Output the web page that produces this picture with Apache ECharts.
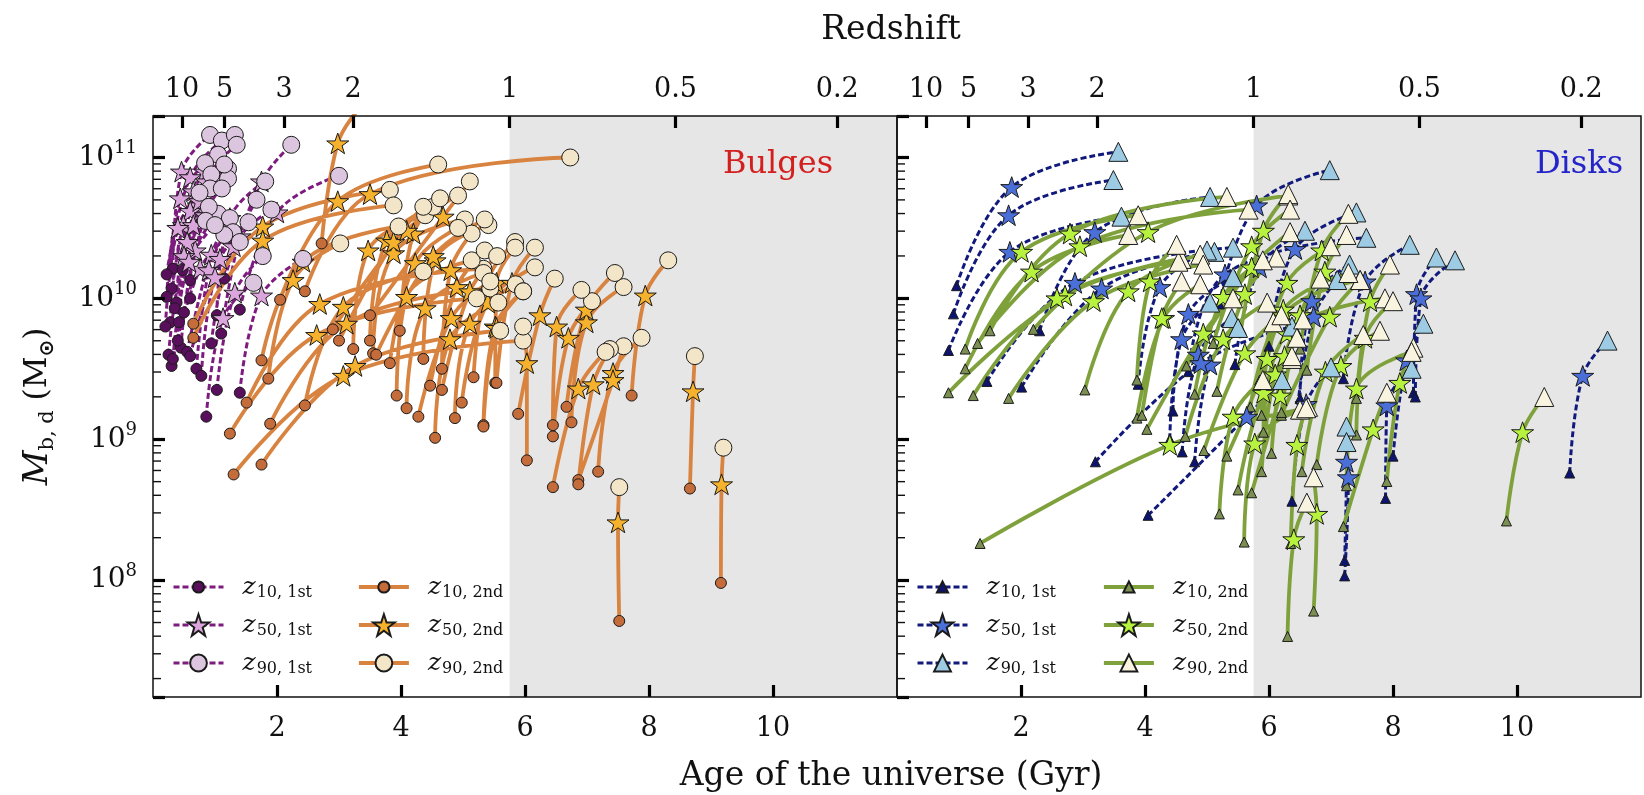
<!DOCTYPE html>
<html>
<head>
<meta charset="utf-8">
<title>Bulge and disk mass assembly</title>
<script src="https://cdn.jsdelivr.net/npm/echarts@6/dist/echarts.min.js"></script>
<style>
  html, body { margin: 0; padding: 0; background: #ffffff; }
  #chart { width: 1644px; height: 795px; }
</style>
</head>
<body>
<div id="chart"></div>
<script>
// ---------------------------------------------------------------------------
// Axis values
// ---------------------------------------------------------------------------
const redshiftTicks = [10, 5, 3, 2, 1, 0.5, 0.2];   // top axis labels
const ageTicks = [2, 4, 6, 8, 10];                   // bottom axis labels (Gyr)
const ageRange = [0, 12];                            // Gyr
const massRange = [1.48e7, 1.97e11];                 // solar masses (log axis)

// ---------------------------------------------------------------------------
// Formation tracks. One row per galaxy component:
// [t10, log M10, t50, log M50, t90, log M90]  (t in Gyr, M in solar masses)
// ---------------------------------------------------------------------------
const bulge1st = [
  [0.32, 10.21, 0.46, 10.90, 0.92, 11.16],
  [0.22, 10.17, 0.60, 10.86, 1.11, 11.12],
  [0.48, 10.20, 0.84, 10.90, 1.32, 11.16],
  [0.60, 10.13, 0.86, 10.83, 1.35, 11.09],
  [0.30, 10.07, 0.65, 10.76, 1.05, 11.02],
  [0.22, 10.01, 0.44, 10.71, 0.84, 10.96],
  [0.38, 9.97, 0.73, 10.66, 1.21, 10.92],
  [0.35, 9.93, 0.60, 10.62, 0.94, 10.88],
  [0.50, 9.90, 0.84, 10.59, 1.21, 10.85],
  [0.28, 9.83, 0.49, 10.52, 0.92, 10.78],
  [0.42, 9.83, 0.65, 10.52, 1.11, 10.78],
  [1.03, 9.88, 1.24, 10.57, 1.81, 10.83],
  [1.10, 9.75, 1.40, 10.44, 1.67, 10.70],
  [0.94, 9.68, 1.30, 10.37, 1.91, 10.63],
  [0.45, 9.65, 0.68, 10.34, 1.05, 10.60],
  [0.55, 9.62, 0.94, 10.31, 1.24, 10.57],
  [0.60, 9.59, 1.08, 10.28, 1.54, 10.54],
  [0.30, 9.52, 0.76, 10.21, 1.29, 10.47],
  [1.03, 9.35, 1.32, 10.04, 1.77, 10.30],
  [1.40, 9.33, 1.75, 10.02, 2.42, 10.28],
  [0.86, 9.16, 1.13, 9.86, 1.62, 10.11],
  [1.15, 10.14, 1.75, 10.83, 2.23, 11.09],
  [1.40, 9.92, 2.00, 10.61, 3.00, 10.87],
  [0.20, 9.80, 0.40, 10.50, 0.75, 10.75],
  [0.40, 9.70, 0.55, 10.40, 0.90, 10.65],
  [0.25, 9.60, 0.50, 10.30, 0.85, 10.55],
  [0.70, 9.50, 0.90, 10.20, 1.15, 10.45],
  [0.60, 10.00, 0.75, 10.69, 1.15, 10.95],
  [0.78, 9.45, 1.00, 10.15, 1.40, 10.40],
  [0.32, 9.57, 0.58, 10.26, 1.00, 10.52]
];

const bulge2nd = [
  [2.72, 10.39, 2.98, 11.10, 3.35, 11.36],
  [2.05, 9.99, 2.98, 10.69, 4.60, 10.95],
  [1.86, 9.43, 2.26, 10.13, 3.02, 10.39],
  [0.65, 9.82, 1.77, 10.51, 3.82, 10.77],
  [0.65, 9.72, 1.77, 10.41, 3.88, 10.66],
  [2.45, 10.05, 3.50, 10.74, 6.73, 11.00],
  [3.50, 9.88, 4.68, 10.58, 5.11, 10.83],
  [1.51, 9.26, 2.69, 9.96, 5.33, 10.21],
  [1.24, 9.04, 2.64, 9.74, 5.22, 10.00],
  [1.89, 9.11, 3.12, 9.82, 5.44, 10.07],
  [1.75, 9.56, 2.42, 10.26, 3.96, 10.51],
  [2.45, 9.24, 3.07, 9.94, 4.36, 10.19],
  [3.23, 9.64, 3.47, 10.34, 4.39, 10.59],
  [3.50, 9.70, 3.77, 10.41, 4.52, 10.65],
  [3.55, 9.61, 3.88, 10.32, 5.03, 10.56],
  [3.93, 9.31, 4.09, 10.01, 5.14, 10.27],
  [4.09, 9.22, 4.39, 9.93, 5.33, 10.18],
  [4.28, 9.16, 4.81, 9.86, 5.44, 10.12],
  [4.36, 9.57, 4.55, 10.27, 5.41, 10.52],
  [3.98, 9.77, 4.20, 10.46, 4.63, 10.71],
  [4.47, 9.38, 4.90, 10.08, 5.35, 10.34],
  [4.66, 9.50, 4.80, 10.20, 5.14, 10.46],
  [4.66, 9.35, 5.11, 10.05, 5.55, 10.30],
  [4.87, 9.15, 5.11, 9.82, 5.85, 10.10],
  [4.98, 9.26, 5.40, 9.97, 6.16, 10.22],
  [5.17, 9.44, 5.40, 10.13, 5.84, 10.40],
  [5.33, 9.10, 5.52, 9.80, 5.97, 10.05],
  [4.55, 9.01, 4.79, 9.71, 5.57, 9.97],
  [3.82, 9.54, 4.23, 10.25, 4.92, 10.50],
  [5.52, 9.40, 5.54, 10.11, 5.84, 10.36],
  [1.30, 8.75, 3.07, 9.45, 5.97, 9.70],
  [1.75, 8.82, 3.26, 9.52, 5.60, 9.77],
  [3.00, 9.70, 3.88, 10.40, 4.36, 10.65],
  [2.90, 9.78, 4.09, 10.48, 4.92, 10.73],
  [3.60, 9.60, 4.52, 10.30, 5.35, 10.56],
  [9.16, 7.98, 9.17, 8.68, 9.20, 8.94],
  [7.52, 7.71, 7.50, 8.41, 7.52, 8.66],
  [8.66, 8.65, 8.71, 9.34, 8.74, 9.59],
  [7.72, 9.31, 7.94, 10.02, 8.31, 10.27],
  [7.18, 8.77, 7.42, 9.47, 7.88, 9.72],
  [6.86, 8.71, 7.42, 9.42, 7.59, 9.66],
  [6.86, 8.68, 7.10, 9.39, 7.37, 9.64],
  [6.75, 9.12, 6.99, 9.83, 7.59, 10.08],
  [6.67, 9.23, 6.99, 9.92, 7.45, 10.18],
  [6.45, 9.02, 6.70, 9.72, 7.08, 9.98],
  [6.45, 8.66, 6.86, 9.36, 7.30, 9.62],
  [6.03, 8.85, 6.03, 9.54, 5.97, 9.80],
  [5.89, 9.18, 6.24, 9.88, 6.48, 10.14],
  [5.54, 9.40, 5.79, 10.11, 6.16, 10.36],
  [5.33, 9.09, 5.54, 9.79, 5.97, 10.05],
  [6.45, 9.10, 6.51, 9.80, 6.91, 10.06]
];

const disk1st = [
  [0.96, 10.09, 1.85, 10.79, 3.57, 11.04],
  [0.91, 9.89, 1.80, 10.59, 3.49, 10.84],
  [0.83, 9.63, 1.82, 10.33, 3.62, 10.58],
  [2.30, 9.77, 3.19, 10.47, 5.05, 10.72],
  [1.45, 9.41, 2.87, 10.11, 5.42, 10.36],
  [2.01, 9.37, 3.30, 10.07, 5.12, 10.33],
  [5.20, 9.96, 5.80, 10.66, 6.98, 10.91],
  [6.00, 9.66, 6.42, 10.35, 7.41, 10.61],
  [5.45, 9.53, 5.85, 10.22, 6.58, 10.48],
  [4.70, 9.48, 5.29, 10.17, 7.57, 10.43],
  [3.89, 9.39, 4.24, 10.08, 5.00, 10.34],
  [4.45, 9.20, 4.70, 9.89, 5.42, 10.15],
  [4.40, 9.00, 4.59, 9.71, 5.05, 9.97],
  [4.60, 8.91, 4.86, 9.60, 5.40, 9.86],
  [4.80, 8.84, 5.05, 9.53, 5.50, 9.79],
  [6.50, 9.29, 6.69, 9.98, 7.30, 10.24],
  [6.45, 9.18, 6.72, 9.87, 7.10, 10.13],
  [7.20, 9.43, 7.55, 10.12, 8.27, 10.38],
  [8.33, 9.33, 8.38, 10.03, 8.70, 10.29],
  [8.36, 9.30, 8.45, 10.00, 9.00, 10.27],
  [8.00, 8.88, 8.22, 9.56, 8.49, 9.82],
  [7.88, 8.58, 7.90, 9.24, 8.30, 9.50],
  [7.22, 8.14, 7.25, 8.84, 7.25, 9.09],
  [7.22, 8.03, 7.28, 8.73, 7.25, 8.98],
  [4.05, 8.46, 5.64, 9.16, 6.21, 9.42],
  [10.85, 8.76, 11.06, 9.45, 11.46, 9.70],
  [3.20, 8.84, 4.90, 9.54, 6.37, 9.80],
  [6.37, 8.56, 6.60, 9.25, 7.00, 9.51]
];

const disk2nd = [
  [1.50, 9.77, 2.79, 10.46, 5.32, 10.72],
  [1.10, 9.64, 2.01, 10.33, 3.89, 10.59],
  [1.10, 9.50, 2.17, 10.19, 3.73, 10.45],
  [0.83, 9.33, 2.71, 10.02, 4.59, 10.28],
  [1.23, 9.31, 2.58, 10.00, 4.54, 10.26],
  [2.20, 9.78, 4.05, 10.47, 6.31, 10.73],
  [3.03, 9.35, 3.73, 10.05, 4.89, 10.31],
  [3.87, 9.42, 4.08, 10.12, 4.51, 10.38],
  [3.87, 9.15, 4.30, 9.86, 4.89, 10.10],
  [4.03, 9.07, 4.94, 9.75, 5.42, 10.00],
  [1.34, 8.26, 4.40, 8.96, 6.50, 9.21],
  [4.65, 9.02, 5.26, 9.71, 5.97, 9.97],
  [5.16, 9.34, 5.61, 10.03, 6.12, 10.29],
  [4.67, 9.52, 5.72, 10.22, 6.34, 10.47],
  [5.55, 9.78, 5.91, 10.48, 6.31, 10.74],
  [5.88, 9.17, 6.23, 9.88, 7.47, 10.13],
  [5.91, 9.05, 6.29, 9.75, 7.87, 10.00],
  [5.72, 8.62, 6.18, 9.31, 6.37, 9.57],
  [5.32, 8.88, 5.97, 9.57, 6.07, 9.83],
  [6.30, 7.60, 6.40, 8.29, 6.61, 8.55],
  [6.72, 7.78, 6.77, 8.47, 6.72, 8.73],
  [6.53, 8.77, 6.91, 9.48, 7.52, 9.74],
  [6.77, 8.82, 7.16, 9.52, 7.79, 9.77],
  [6.20, 9.17, 6.98, 9.87, 7.47, 10.13],
  [6.61, 9.49, 6.90, 10.19, 7.25, 10.45],
  [7.41, 9.29, 7.63, 9.98, 7.95, 10.24],
  [7.90, 8.70, 8.11, 9.40, 8.33, 9.65],
  [7.20, 8.38, 7.68, 9.07, 7.90, 9.33],
  [7.25, 8.67, 7.41, 9.36, 8.30, 9.62],
  [4.95, 8.92, 5.61, 9.61, 6.20, 9.88],
  [5.20, 8.47, 5.42, 9.16, 5.90, 9.42],
  [5.60, 8.27, 5.77, 8.97, 6.63, 9.23],
  [6.35, 8.26, 6.45, 8.96, 6.60, 9.22],
  [6.50, 9.64, 6.85, 10.34, 7.28, 10.60],
  [5.85, 9.42, 6.29, 10.11, 7.00, 10.37],
  [4.80, 9.32, 5.26, 10.01, 5.90, 10.27],
  [5.10, 9.68, 5.72, 10.37, 6.34, 10.63],
  [1.80, 9.29, 3.17, 9.98, 4.94, 10.24],
  [3.95, 9.17, 4.27, 9.86, 4.59, 10.12],
  [9.83, 8.42, 10.09, 9.05, 10.44, 9.30],
  [5.50, 8.64, 5.91, 9.33, 6.37, 9.59],
  [6.20, 9.19, 6.50, 9.88, 6.83, 10.14],
  [5.70, 9.23, 6.23, 9.92, 7.28, 10.18],
  [1.30, 9.68, 2.95, 10.37, 5.67, 10.63],
  [7.41, 9.03, 7.55, 9.72, 8.00, 9.98],
  [6.04, 8.90, 6.25, 9.59, 6.55, 9.85],
  [5.88, 8.77, 6.10, 9.46, 6.45, 9.72]
];

// ---------------------------------------------------------------------------
// Cosmology: age of a flat LCDM universe (H0 = 70 km/s/Mpc, Om = 0.3)
// ---------------------------------------------------------------------------
function ageAtRedshift(z) {
  const H0 = 70, Om = 0.3, OL = 0.7;
  const hubbleTime = 977.79 / H0; // Gyr
  return (2 / (3 * Math.sqrt(OL))) * hubbleTime *
    Math.asinh(Math.sqrt(OL / Om) * Math.pow(1 + z, -1.5));
}
const redshiftAges = redshiftTicks.map(ageAtRedshift);
const shadeStart = ageAtRedshift(1);

// ---------------------------------------------------------------------------
// Styling
// ---------------------------------------------------------------------------
const SERIF = "'DejaVu Serif', serif";
const STAR = 'path://M50,2 L61.8,36.2 L97.6,36.2 L68.6,57.4 L79.4,91.6 L50,70.6 L20.6,91.6 L31.4,57.4 L2.4,36.2 L38.2,36.2 Z';
const pct = ['10', '50', '90'];

const groups = [
  { id: 'b1', grid: 0, tracks: bulge1st, tag: '1st',
    line: { color: '#7d1c7e', width: 3, type: [6, 3] },
    marks: [
      { symbol: 'circle', size: 11, fill: '#5a0f5c' },
      { symbol: STAR, size: 22, fill: '#dba6dc' },
      { symbol: 'circle', size: 17, fill: '#dcc6df' }
    ] },
  { id: 'b2', grid: 0, tracks: bulge2nd, tag: '2nd',
    line: { color: '#d8833f', width: 3.8, type: 'solid' },
    marks: [
      { symbol: 'circle', size: 11, fill: '#c46c3a' },
      { symbol: STAR, size: 22, fill: '#f6b22c' },
      { symbol: 'circle', size: 17, fill: '#f3e5c8' }
    ] },
  { id: 'd1', grid: 1, tracks: disk1st, tag: '1st',
    line: { color: '#111a7c', width: 3, type: [6, 3] },
    marks: [
      { symbol: 'triangle', size: 10, fill: '#0c1470' },
      { symbol: STAR, size: 22, fill: '#4b6fd8' },
      { symbol: 'triangle', size: 19, fill: '#9ccbe3' }
    ] },
  { id: 'd2', grid: 1, tracks: disk2nd, tag: '2nd',
    line: { color: '#7fa13c', width: 3.8, type: 'solid' },
    marks: [
      { symbol: 'triangle', size: 10, fill: '#7b8f52' },
      { symbol: STAR, size: 22, fill: '#b6f23e' },
      { symbol: 'triangle', size: 19, fill: '#f8f4e0' }
    ] }
];

// ---------------------------------------------------------------------------
// Data helpers
// ---------------------------------------------------------------------------
function trackPoints(tracks) {
  const out = [];
  tracks.forEach(t => {
    out.push([t[0], Math.pow(10, t[1])], [t[2], Math.pow(10, t[3])], [t[4], Math.pow(10, t[5])], null);
  });
  return out;
}
function markerPoints(tracks, k) {
  const out = [];
  tracks.forEach(t => { out.push([t[2 * k], Math.pow(10, t[2 * k + 1])], null); });
  return out;
}

// Log minor ticks (2..9 x 10^n) inside the mass range
const minorTickValues = [];
for (let e = 7; e <= 11; e++) {
  for (let k = 2; k <= 9; k++) {
    const v = k * Math.pow(10, e);
    if (v > massRange[0] && v < massRange[1]) minorTickValues.push([ageRange[0], v]);
  }
}

// ---------------------------------------------------------------------------
// Series
// ---------------------------------------------------------------------------
const series = [];
[0, 1].forEach(g => {
  // grey band for z < 1
  series.push({
    type: 'custom', xAxisIndex: g * 2, yAxisIndex: g, silent: true, z: 1,
    data: [[shadeStart, massRange[0], ageRange[1], massRange[1]]],
    encode: { x: [0, 2], y: [1, 3] },
    renderItem: (params, api) => {
      const p0 = api.coord([api.value(0), api.value(3)]);
      const p1 = api.coord([api.value(2), api.value(1)]);
      return { type: 'rect', shape: { x: p0[0], y: p0[1], width: p1[0] - p0[0], height: p1[1] - p0[1] },
               style: { fill: '#e6e6e6' } };
    }
  });
  // minor ticks on the mass axis
  series.push({
    type: 'custom', xAxisIndex: g * 2, yAxisIndex: g, silent: true, z: 20,
    data: minorTickValues,
    encode: { x: 0, y: 1 },
    renderItem: (params, api) => {
      const p = api.coord([api.value(0), api.value(1)]);
      return { type: 'line', shape: { x1: p[0], y1: p[1], x2: p[0] + 8, y2: p[1] },
               style: { stroke: '#111', lineWidth: 1.4 } };
    }
  });
});

// growth tracks
groups.forEach(gr => {
  series.push({
    type: 'line', name: gr.id + '_track', xAxisIndex: gr.grid * 2, yAxisIndex: gr.grid,
    data: trackPoints(gr.tracks), showSymbol: false, smooth: 0.4, connectNulls: false,
    lineStyle: Object.assign({}, gr.line), silent: true, z: 2
  });
});

// z10 / z50 / z90 markers
[0, 1, 2].forEach(k => {
  groups.forEach(gr => {
    const m = gr.marks[k];
    series.push({
      type: 'line', name: gr.id + '_' + pct[k], xAxisIndex: gr.grid * 2, yAxisIndex: gr.grid,
      data: markerPoints(gr.tracks, k), connectNulls: false,
      symbol: m.symbol, symbolSize: m.size, symbolKeepAspect: true, showSymbol: true,
      itemStyle: { color: m.fill, borderColor: '#1b1b1b', borderWidth: 1 },
      lineStyle: Object.assign({}, gr.line),
      silent: true, z: 3
    });
  });
});

// ---------------------------------------------------------------------------
// Axes
// ---------------------------------------------------------------------------
const tickStyle = { color: '#000', width: 3.2 };

function ageAxis(g) {
  return {
    type: 'value', gridIndex: g, position: 'bottom', min: ageRange[0], max: ageRange[1],
    axisLine: { show: false }, splitLine: { show: false },
    axisTick: { show: true, inside: true, length: 12, lineStyle: tickStyle, customValues: ageTicks },
    axisLabel: { customValues: ageTicks, margin: 18, fontSize: 27, fontFamily: SERIF, color: '#111',
                 formatter: v => String(v) },
    z: 10
  };
}
function redshiftAxis(g) {
  return {
    type: 'value', gridIndex: g, position: 'top', min: ageRange[0], max: ageRange[1],
    axisLine: { show: false }, splitLine: { show: false },
    axisTick: { show: true, inside: true, length: 12, lineStyle: tickStyle, customValues: redshiftAges },
    axisLabel: {
      customValues: redshiftAges, margin: 13, fontSize: 27, fontFamily: SERIF, color: '#111',
      formatter: v => {
        const i = redshiftAges.findIndex(a => Math.abs(a - v) < 1e-6);
        return i >= 0 ? String(redshiftTicks[i]) : '';
      }
    },
    z: 10
  };
}
function massAxis(g) {
  const ax = {
    type: 'log', logBase: 10, gridIndex: g, min: massRange[0], max: massRange[1],
    axisLine: { show: false }, splitLine: { show: false },
    axisTick: { show: true, inside: true, length: 12, lineStyle: tickStyle },
    axisLabel: {
      show: g === 0, margin: 16,
      formatter: v => {
        const e = Math.log10(v);
        if (Math.abs(e - Math.round(e)) > 1e-6) return '';
        return '{b|10}{e|' + Math.round(e) + '}';
      },
      rich: {
        b: { fontFamily: SERIF, fontSize: 28, lineHeight: 36, verticalAlign: 'middle', color: '#111' },
        e: { fontFamily: SERIF, fontSize: 18, lineHeight: 18, verticalAlign: 'top', color: '#111' }
      }
    },
    z: 10
  };
  if (g === 0) {
    ax.name = '{m|M}{s|b, d}{p| (M}{o|\u2299}{p|)}';
    ax.nameLocation = 'middle';
    ax.nameRotate = 90;
    ax.nameGap = 95;
    ax.nameTextStyle = {
      rich: {
        m: { fontFamily: SERIF, fontStyle: 'italic', fontSize: 34, lineHeight: 40, verticalAlign: 'middle', color: '#111' },
        s: { fontFamily: SERIF, fontSize: 21, lineHeight: 22, verticalAlign: 'bottom', color: '#111' },
        p: { fontFamily: SERIF, fontSize: 31, lineHeight: 40, verticalAlign: 'middle', color: '#111' },
        o: { fontFamily: "'DejaVu Sans', sans-serif", fontSize: 20, fontWeight: 'bold', lineHeight: 22, verticalAlign: 'bottom', color: '#111' }
      }
    };
  }
  return ax;
}

// ---------------------------------------------------------------------------
// Legends: one entry each, so every marker keeps its own size
// ---------------------------------------------------------------------------
const legendRowCentres = [588, 626, 664];
const legendIconHeights = [14, 27, 21];   // marker is drawn at 80% of this
function legendEntry(gr, k, left) {
  return {
    data: [gr.id + '_' + pct[k]], orient: 'vertical', left: left,
    top: legendRowCentres[k] - 13.5,
    padding: 0, itemWidth: 50, itemHeight: legendIconHeights[k], selectedMode: false,
    lineStyle: { width: gr.line.width },
    formatter: name => '{z|z}{s|' + name.split('_')[1] + ', ' + gr.tag + '}',
    textStyle: {
      rich: {
        z: { fontFamily: SERIF, fontStyle: 'italic', fontSize: 25, lineHeight: 27, verticalAlign: 'middle',
             padding: [0, 1, 0, 14], color: '#111' },
        s: { fontFamily: SERIF, fontSize: 16, lineHeight: 15, verticalAlign: 'bottom', color: '#111' }
      }
    }
  };
}
const legendColumns = [[0, 172], [1, 357], [2, 916], [3, 1102]];
const legends = [];
legendColumns.forEach(([gi, left]) => {
  [0, 1, 2].forEach(k => legends.push(legendEntry(groups[gi], k, left)));
});

const option = {
  animation: false,
  backgroundColor: '#ffffff',
  grid: [
    { left: 153, top: 116, width: 744, height: 581, show: true, borderColor: '#111', borderWidth: 1.5,
      backgroundColor: 'transparent', z: 15 },
    { left: 897, top: 116, width: 744, height: 581, show: true, borderColor: '#111', borderWidth: 1.5,
      backgroundColor: 'transparent', z: 15 }
  ],
  xAxis: [ageAxis(0), redshiftAxis(0), ageAxis(1), redshiftAxis(1)],
  yAxis: [massAxis(0), massAxis(1)],
  legend: legends,
  graphic: [
    { type: 'text', x: 891, y: 30, z: 50,
      style: { text: 'Redshift', fill: '#111', fontSize: 33, fontFamily: SERIF, align: 'center', verticalAlign: 'middle' } },
    { type: 'text', x: 891, y: 776, z: 50,
      style: { text: 'Age of the universe (Gyr)', fill: '#111', fontSize: 33, fontFamily: SERIF, align: 'center', verticalAlign: 'middle' } },
    { type: 'text', x: 778, y: 165, z: 50,
      style: { text: 'Bulges', fill: '#d41f1f', fontSize: 32, fontFamily: SERIF, align: 'center', verticalAlign: 'middle' } },
    { type: 'text', x: 1579, y: 165, z: 50,
      style: { text: 'Disks', fill: '#2424c9', fontSize: 32, fontFamily: SERIF, align: 'center', verticalAlign: 'middle' } }
  ],
  series: series
};

const chart = echarts.init(document.getElementById('chart'), null, { renderer: 'canvas' });
chart.setOption(option);
</script>
</body>
</html>
